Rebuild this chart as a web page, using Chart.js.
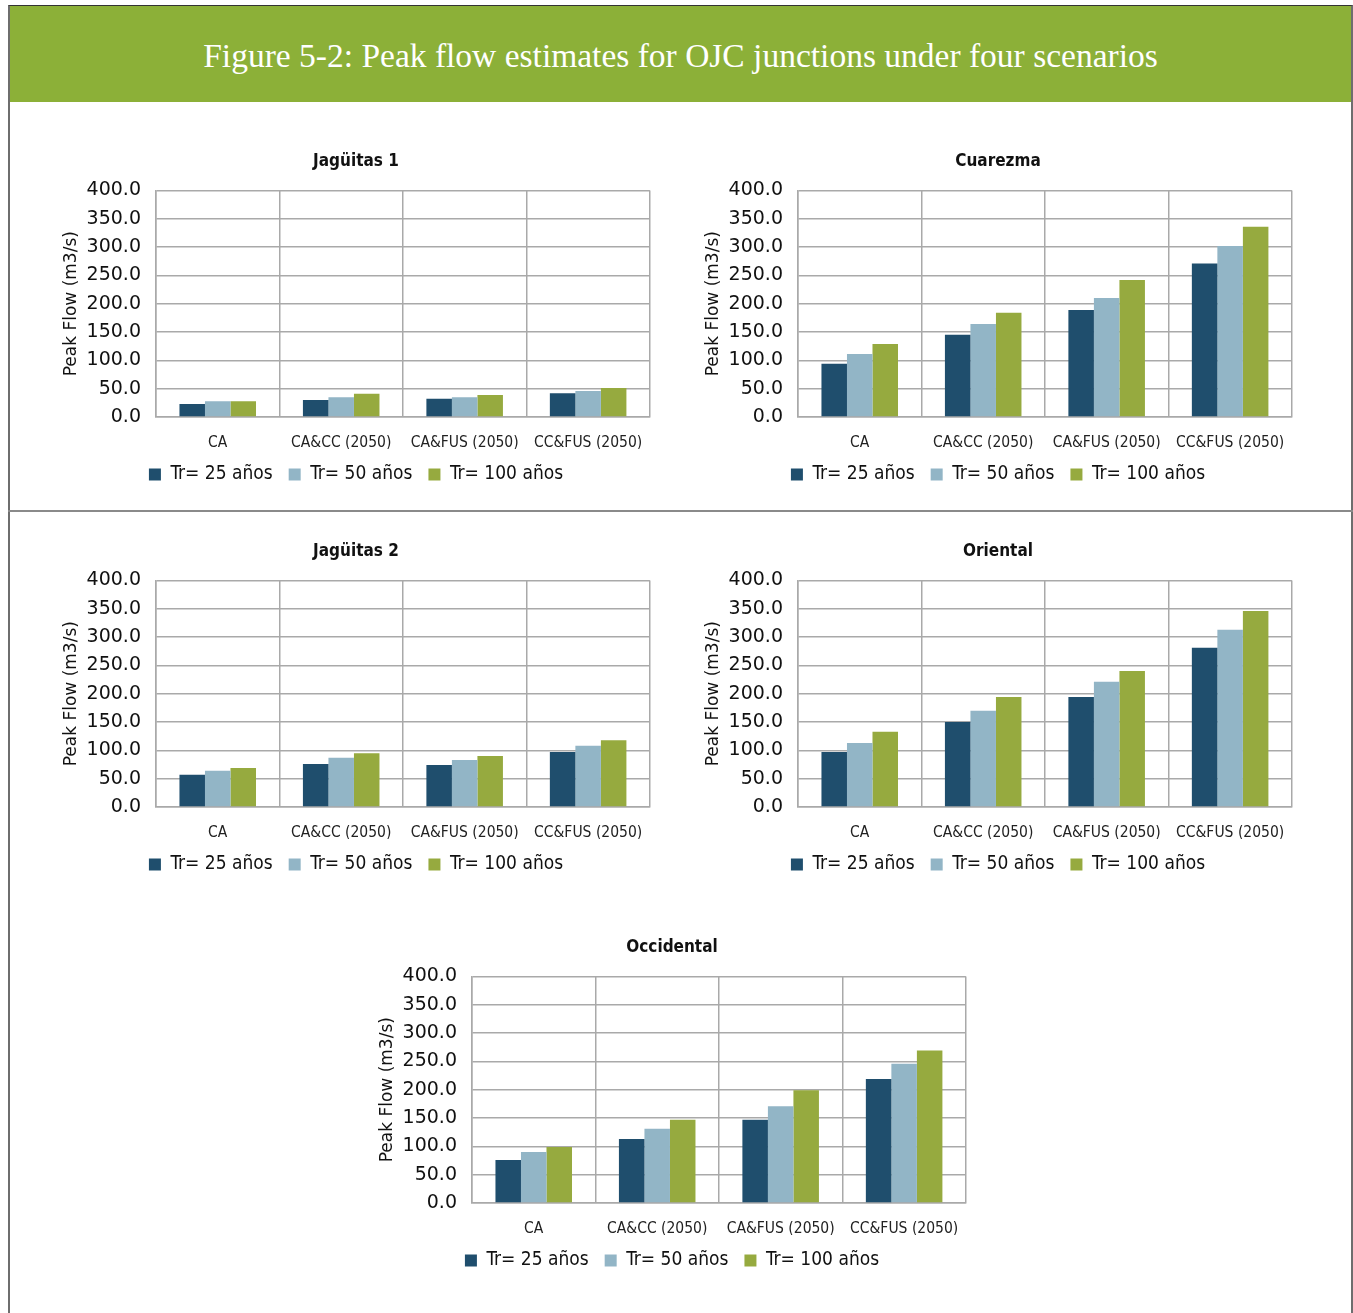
<!DOCTYPE html>
<html>
<head>
<meta charset="utf-8">
<script src="https://cdn.jsdelivr.net/npm/chart.js@4.4.1/dist/chart.umd.min.js"></script>
<style>
  body { margin: 0; background: #fff; width: 1353px; height: 1313px; position: relative; overflow: hidden; }
  .frame { position: absolute; left: 8px; top: 5px; width: 1341px; height: 1310px;
           border-left: 2px solid #6e6e6e; border-right: 2px solid #6e6e6e; border-top: 1px solid #333; }
  .head { position: absolute; left: 0; top: 0; width: 100%; height: 96px; background: #8cb038;
          color: #fff; font-family: 'Liberation Serif', 'DejaVu Serif', serif; font-size: 33.5px;
          line-height: 100px; text-align: center; }
  .divider { position: absolute; left: 8px; width: 1345px; top: 510px; height: 2px; background: #8a8a8a; }
  canvas { position: absolute; }
</style>
</head>
<body>
<div class="frame"><div class="head">Figure 5-2: Peak flow estimates for OJC junctions under four scenarios</div></div>
<div class="divider"></div>
<canvas id="c1" width="602" height="354" style="left:58px;top:140px"></canvas>
<canvas id="c2" width="602" height="354" style="left:700px;top:140px"></canvas>
<canvas id="c3" width="602" height="354" style="left:58px;top:530px"></canvas>
<canvas id="c4" width="602" height="354" style="left:700px;top:530px"></canvas>
<canvas id="c5" width="602" height="354" style="left:374px;top:926px"></canvas>
<script>
// scenario categories and return periods
const categories = ['CA', 'CA&CC (2050)', 'CA&FUS (2050)', 'CC&FUS (2050)'];
const seriesNames = ['Tr= 25 años', 'Tr= 50 años', 'Tr= 100 años'];
const colors = ['#1f4e6d', '#92b5c6', '#96aa3f'];

// peak flow (m3/s) per junction
const jag1_25 = [23, 30, 32, 42];
const jag1_50 = [28, 35, 35, 46];
const jag1_100 = [28, 41, 39, 51];

const cuar_25 = [94, 145, 189, 271];
const cuar_50 = [111, 164, 210, 302];
const cuar_100 = [129, 184, 242, 336];

const jag2_25 = [57, 76, 74, 97];
const jag2_50 = [64, 87, 83, 108];
const jag2_100 = [69, 95, 90, 118];

const orie_25 = [97, 150, 194, 281];
const orie_50 = [113, 170, 221, 313];
const orie_100 = [133, 194, 240, 346];

const occi_25 = [76, 113, 147, 219];
const occi_50 = [90, 131, 171, 246];
const occi_100 = [99, 147, 199, 269];

const yMax = 400;
const yStep = 50;

const narrow = "'DejaVu Sans Condensed', sans-serif";
const gridColor = '#a9a9a9';

function makeChart(id, title, series) {
  new Chart(document.getElementById(id), {
    type: 'bar',
    data: {
      labels: categories,
      datasets: series.map((vals, i) => ({
        label: seriesNames[i],
        data: vals,
        backgroundColor: colors[i],
        borderWidth: 0,
        barPercentage: 1,
        categoryPercentage: 0.62
      }))
    },
    options: {
      responsive: false,
      animation: false,
      layout: { padding: { left: 0, right: 6, top: 0, bottom: 0 } },
      scales: {
        x: {
          grid: { color: gridColor, lineWidth: 1.5, drawTicks: false },
          border: { color: gridColor, width: 1.5 },
          ticks: { color: '#222', padding: 17, maxRotation: 0,
                   font: { family: narrow, size: 15.5 } },
          afterFit: (s) => { s.height = 32; }
        },
        y: {
          min: 0, max: yMax,
          grid: { color: gridColor, lineWidth: 1.5, drawTicks: false },
          border: { color: gridColor, width: 1.5 },
          ticks: { stepSize: yStep, color: '#111', padding: 15,
                   font: { family: 'DejaVu Sans', size: 19 },
                   callback: (v) => v.toFixed(1) },
          title: { display: true, text: 'Peak Flow (m3/s)', color: '#111',
                   padding: { top: 3, bottom: 0 },
                   font: { family: 'DejaVu Sans', size: 17 } },
          afterFit: (s) => { s.width = 98; }
        }
      },
      plugins: {
        title: { display: true, text: title, color: '#111',
                 padding: { top: 11, bottom: 19 },
                 font: { family: narrow, size: 17, weight: 'bold' } },
        legend: { position: 'bottom',
                  labels: { boxWidth: 12, boxHeight: 12, padding: 16, color: '#111',
                            font: { family: narrow, size: 19 } } },
        tooltip: { enabled: false }
      }
    }
  });
}

makeChart('c1', 'Jagüitas 1', [jag1_25, jag1_50, jag1_100]);
makeChart('c2', 'Cuarezma', [cuar_25, cuar_50, cuar_100]);
makeChart('c3', 'Jagüitas 2', [jag2_25, jag2_50, jag2_100]);
makeChart('c4', 'Oriental', [orie_25, orie_50, orie_100]);
makeChart('c5', 'Occidental', [occi_25, occi_50, occi_100]);
</script>
</body>
</html>
